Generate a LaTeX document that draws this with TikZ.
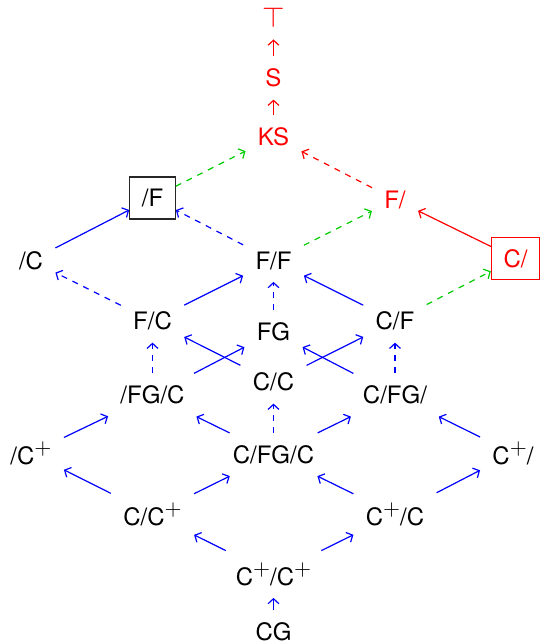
\documentclass[tikz,border=0pt]{standalone}
\usepackage{fontspec}
\setmainfont{TeX Gyre Heros}
\usetikzlibrary{arrows.meta}
\newcommand\plussup{\raisebox{4.6pt}{\fontsize{10.5}{12}\selectfont$+$}}
\begin{document}
\begin{tikzpicture}[x=0.5pt,y=-0.5pt,
  every node/.style={inner sep=6pt,font=\fontsize{12}{14.4}\selectfont},
  redtxt/.style={text=red},
  redbox/.style={draw=red,text=red,line width=0.65pt},
  blackbox/.style={draw=black!85,line width=0.65pt},
  conn/.style={-{Straight Barb[length=2.5pt,width=5.4pt]},line width=0.6pt},
  rs/.style={conn,red},
  rd/.style={conn,red,dashed},
  gd/.style={conn,green!80!black,dashed},
  bs/.style={conn,blue},
  bd/.style={conn,blue,dashed}]
\useasboundingbox (0,0) rectangle (540,644);
% nodes
\node[redtxt,font=\fontsize{14.4}{17}\selectfont] (top) at (273.5,17) {$\top$};
\node[redtxt] (S) at (273.5,78) {S};
\node[redtxt] (KS) at (273.5,137) {KS};
\node[blackbox] (F1) at (152.5,198) {/F};
\node[redtxt] (F2) at (395,199.5) {F/};
\node (C1) at (31,260.5) {/C};
\node (FF) at (273.5,260.5) {F/F};
\node[redbox] (C2) at (515.5,258.5) {C/};
\node (FC) at (152.5,321) {F/C};
\node (FG) at (273.5,332) {FG};
\node (CF) at (395,321) {C/F};
\node (FGC) at (152.5,395) {/FG/C};
\node (CC) at (273.5,382) {C/C};
\node (CFG) at (395,395) {C/FG/};
\node[anchor=base] (Cp1) at (31,464) {/C\plussup};
\node (CFGC) at (273.5,454.5) {C/FG/C};
\node[anchor=base] (Cp2) at (513,464) {C\plussup/};
\node[anchor=base] (CCp) at (152.5,525) {C/C\plussup};
\node[anchor=base] (CpC) at (395,525) {C\plussup/C};
\node[anchor=base] (CpCp) at (273.5,585) {C\plussup/C\plussup};
\node (CG) at (273.5,632) {CG};
% edges
\draw[rs] (S) -- (top);
\draw[rs] (KS) -- (S);
\draw[rd] (F2) -- (KS);
\draw[rs] (C2) -- (F2);
\draw[gd] (F1) -- (KS);
\draw[gd] (FF) -- (F2);
\draw[gd] (CF) -- (C2);
\draw[bs] (C1) -- (F1);
\draw[bd] (FF) -- (F1);
\draw[bd] (FC) -- (C1);
\draw[bs] (FC) -- (FF);
\draw[bd] (FG) -- (FF);
\draw[bs] (CF) -- (FF);
\draw[bd] (FGC) -- (FC);
\draw[bs] (FGC) -- (FG);
\draw[bs] (CC) -- (FC);
\draw[bs] (CC) -- (CF);
\draw[bs] (CFG) -- (FG);
\draw[bd] (CFG) -- (CF);
\draw[bd] (CFGC) -- (CC);
\draw[bs] (Cp1) -- (FGC);
\draw[bs] (CFGC) -- (FGC);
\draw[bs] (CFGC) -- (CFG);
\draw[bs] (Cp2) -- (CFG);
\draw[bs] (CCp) -- (Cp1);
\draw[bs] (CCp) -- (CFGC);
\draw[bs] (CpC) -- (CFGC);
\draw[bs] (CpC) -- (Cp2);
\draw[bs] (CpCp) -- (CCp);
\draw[bs] (CpCp) -- (CpC);
\draw[bs] (CG) -- (CpCp);
\end{tikzpicture}
\end{document}
